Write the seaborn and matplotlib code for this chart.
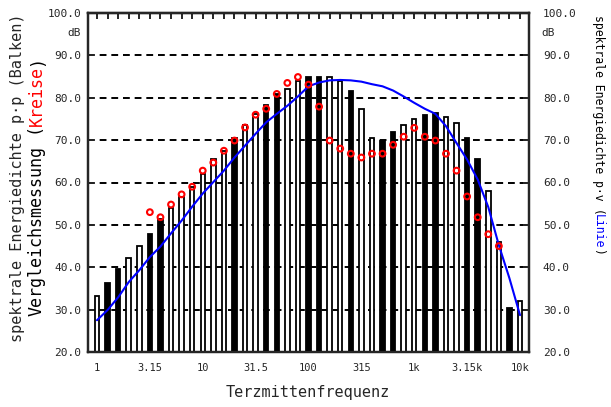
import numpy as np
import pandas as pd
import matplotlib
matplotlib.use("Agg")
import matplotlib.pyplot as plt
from matplotlib.text import Annotation
import seaborn as sns

# ---------------- data ----------------
tick_labels = ["1", "3.15", "10", "31.5", "100", "315", "1k", "3.15k", "10k"]

bar_values = [33.3, 36.2, 39.5, 42.1, 45.0, 47.8, 51.5, 53.9, 56.5, 59.0,
              62.1, 65.6, 67.5, 70.6, 73.6, 76.2, 78.3, 80.9, 82.1, 84.0,
              84.9, 84.9, 84.9, 84.0, 81.6, 77.4, 70.6, 69.9, 71.8, 73.6,
              75.1, 76.0, 76.5, 75.5, 74.1, 70.6, 65.6, 58.1, 45.9, 30.4,
              32.0]
bar_fill = ["W", "B", "B", "W", "W", "B", "B", "W", "W", "W",
            "W", "W", "W", "B", "W", "W", "B", "B", "W", "W",
            "B", "B", "W", "W", "B", "W", "W", "B", "B", "W",
            "W", "B", "B", "W", "W", "B", "B", "W", "W", "B",
            "W"]
line_values = [27.5, 29.9, 32.9, 36.5, 39.3, 42.4, 44.9, 48.0, 51.0, 54.3,
               57.4, 60.1, 62.8, 65.9, 68.7, 71.5, 74.2, 76.2, 78.1, 80.3,
               82.7, 83.6, 84.1, 84.2, 84.1, 83.8, 83.2, 82.7, 81.7, 80.3,
               78.8, 77.4, 76.2, 73.3, 69.3, 65.4, 60.7, 54.2, 45.2, 37.4,
               28.7]
circle_start = 5
circle_values = [53.0, 51.8, 54.8, 57.2, 59.0, 62.8, 64.7, 67.5, 69.9, 73.0,
                 76.0, 77.4, 80.9, 83.5, 84.9, 83.1, 77.9, 69.9, 68.0, 66.8,
                 65.9, 66.8, 66.8, 68.9, 70.8, 72.9, 70.8, 69.9, 66.8, 62.8,
                 56.7, 51.8, 47.8, 45.0]

n = len(bar_values)
pos = list(range(n))
df_bars = pd.DataFrame({"pos": pos, "val": bar_values, "fill": bar_fill})
df_line = pd.DataFrame({"pos": pos, "val": line_values})
df_circ = pd.DataFrame({"pos": list(range(circle_start, circle_start + len(circle_values))),
                        "val": circle_values})

# ---------------- style ----------------
sns.set_style("white")
plt.rcParams["font.family"] = ["DejaVu Sans Mono", "DejaVu Sans"]

W, H = 611, 407
fig = plt.figure(figsize=(W / 100, H / 100), dpi=100)
ax = fig.add_axes([88 / W, 1 - 352 / H, (529 - 88) / W, (352 - 13) / H])

sns.barplot(data=df_bars, x="pos", y="val", hue="fill",
            palette={"W": "white", "B": "black"}, dodge=False, width=0.42,
            edgecolor="black", linewidth=1.3, saturation=1, legend=False,
            order=pos, ax=ax)
for p in ax.patches:
    p.set_zorder(2)
sns.lineplot(data=df_line, x="pos", y="val", color="#0000ff", lw=1.5, ax=ax, zorder=3)
sns.scatterplot(data=df_circ, x="pos", y="val", marker="o", s=17,
                facecolor="none", edgecolor="#ff0000", linewidth=1.5, ax=ax, zorder=4)

ax.set_xlim(-0.85, n - 1 + 0.85)
ax.set_ylim(20, 100)
ax.set_xticks(list(range(0, n, 5)))
ax.set_xticklabels(tick_labels, fontsize=7.5)
ax.set_yticks(np.arange(20, 101, 10))
ax.set_yticklabels([f"{v:.1f}" for v in np.arange(20, 101, 10)], fontsize=8)
ax.tick_params(axis="x", length=0, pad=8)
ax.tick_params(axis="y", direction="in", length=4, width=1.4, pad=5)
ax.set_xlabel("")
ax.set_ylabel("")

ax.set_axisbelow(True)
ax.yaxis.grid(True, color="black", lw=1.4, linestyle=(0, (3.5, 2.5)), zorder=0.5)
ax.xaxis.grid(False)
for sp in ax.spines.values():
    sp.set_visible(True)
    sp.set_color("black")
    sp.set_linewidth(1.6)
    sp.set_zorder(5)

top = ax.secondary_xaxis("top")
top.set_xticks(pos)
top.set_xticklabels([])
top.tick_params(direction="in", length=4, width=1.4)
top.spines["top"].set_linewidth(1.6)

ax2 = ax.twinx()
ax2.set_ylim(20, 100)
ax2.set_yticks(np.arange(20, 101, 10))
ax2.set_yticklabels([f"{v:.1f}" for v in np.arange(20, 101, 10)], fontsize=8)
ax2.tick_params(axis="y", direction="in", length=4, width=1.4, pad=10)
ax2.grid(False)
for sp in ax2.spines.values():
    sp.set_linewidth(1.6)

# units
fig.text(81 / W, 1 - 33 / H, "dB", ha="right", va="center", fontsize=8)
fig.text(541 / W, 1 - 33 / H, "dB", ha="left", va="center", fontsize=8)

# x label
fig.text(308 / W, 1 - 392 / H, "Terzmittenfrequenz", ha="center", va="center", fontsize=11)

# left label line 1
fig.text(18 / W, 1 - 178 / H, "spektrale Energiedichte p\u00b7p (Balken)",
         rotation=90, ha="center", va="center", fontsize=11)


def stack_up(x, y, pieces, fs):
    last = fig.text(x, y, pieces[0][0], color=pieces[0][1], rotation=90,
                    ha="center", va="bottom", fontsize=fs)
    for s, c in pieces[1:]:
        last = fig.add_artist(Annotation(
            s, xy=(0.5, 1), xycoords=last, color=c, rotation=90,
            ha="center", va="bottom", fontsize=fs))


def stack_down(x, y, pieces, fs):
    last = fig.text(x, y, pieces[0][0], color=pieces[0][1], rotation=-90,
                    ha="center", va="top", fontsize=fs)
    for s, c in pieces[1:]:
        last = fig.add_artist(Annotation(
            s, xy=(0.5, 0), xycoords=last, color=c, rotation=-90,
            ha="center", va="top", fontsize=fs))


stack_up(37 / W, 1 - 316 / H,
         [("Vergleichsmessung", "black"), (" (", "black"), ("Kreise", "#ff0000"), (")", "black")],
         12)
stack_down(598 / W, 1 - 15 / H,
           [("spektrale Energiedichte p\u00b7v", "black"), (" (", "black"),
            ("Linie", "#0000ff"), (")", "black")],
           8.3)

fig.savefig("out.png", dpi=100)
